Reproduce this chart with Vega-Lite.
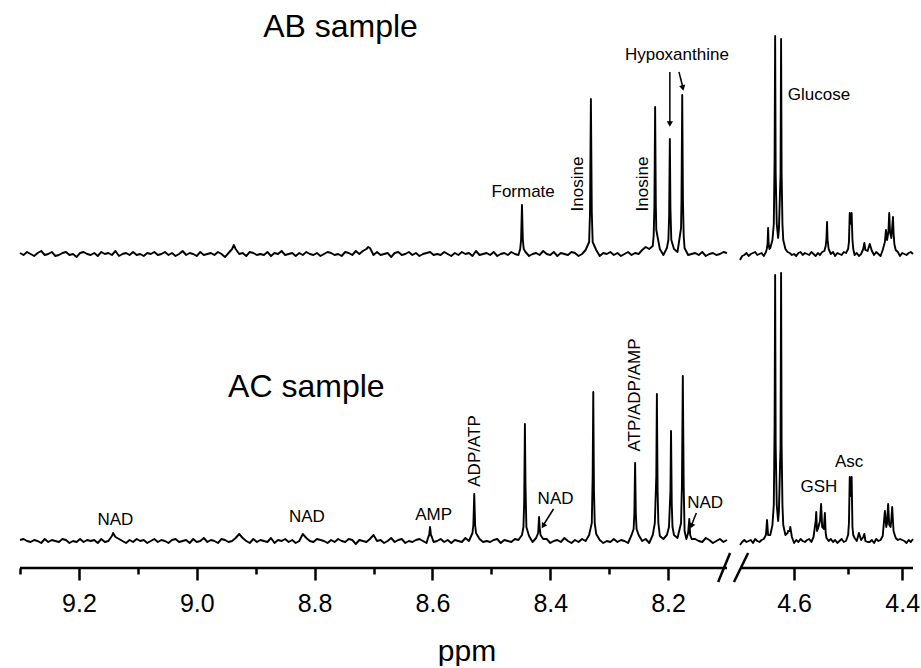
{
  "$schema": "https://vega.github.io/schema/vega-lite/v6.json",
  "background": "white",
  "padding": {"left": 18, "top": 0, "right": 0, "bottom": 0},
  "spacing": 0,
  "config": {
    "view": {"stroke": null},
    "font": "Liberation Sans",
    "text": {"font": "Liberation Sans", "color": "black"}
  },
  "datasets": {
    "abL": [
      {"p":9.300,"v":1},{"p":9.294,"v":-1},{"p":9.288,"v":2},{"p":9.282,"v":0},{"p":9.276,"v":-2},{"p":9.270,"v":1},{"p":9.264,"v":3},{"p":9.258,"v":-1},{"p":9.252,"v":0},{"p":9.246,"v":2},
      {"p":9.240,"v":-2},{"p":9.234,"v":-1},{"p":9.228,"v":1},{"p":9.222,"v":2},{"p":9.216,"v":-1},{"p":9.210,"v":0},{"p":9.204,"v":-3},{"p":9.198,"v":1},{"p":9.192,"v":2},{"p":9.186,"v":0},
      {"p":9.180,"v":-1},{"p":9.174,"v":1},{"p":9.168,"v":-2},{"p":9.162,"v":2},{"p":9.156,"v":0},{"p":9.150,"v":1},{"p":9.144,"v":-1},{"p":9.138,"v":3},{"p":9.132,"v":-2},{"p":9.126,"v":0},
      {"p":9.120,"v":1},{"p":9.114,"v":-1},{"p":9.108,"v":2},{"p":9.102,"v":-1},{"p":9.096,"v":0},{"p":9.090,"v":-2},{"p":9.084,"v":1},{"p":9.078,"v":0},{"p":9.072,"v":2},{"p":9.066,"v":-1},
      {"p":9.060,"v":0},{"p":9.054,"v":2},{"p":9.048,"v":-1},{"p":9.042,"v":1},{"p":9.036,"v":-2},{"p":9.030,"v":0},{"p":9.024,"v":3},{"p":9.018,"v":-1},{"p":9.012,"v":1},{"p":9.006,"v":0},
      {"p":9.000,"v":-2},{"p":8.994,"v":2},{"p":8.988,"v":-1},{"p":8.982,"v":0},{"p":8.976,"v":1},{"p":8.970,"v":-1},{"p":8.964,"v":2},{"p":8.958,"v":0},{"p":8.952,"v":-3},{"p":8.946,"v":1},
      {"p":8.940,"v":5},{"p":8.937,"v":9},{"p":8.934,"v":5},{"p":8.928,"v":0},{"p":8.922,"v":1},{"p":8.916,"v":-2},{"p":8.910,"v":2},{"p":8.904,"v":1},{"p":8.898,"v":-1},{"p":8.892,"v":0},{"p":8.886,"v":-1},
      {"p":8.880,"v":2},{"p":8.874,"v":-2},{"p":8.868,"v":1},{"p":8.862,"v":0},{"p":8.856,"v":3},{"p":8.850,"v":-1},{"p":8.844,"v":0},{"p":8.838,"v":1},{"p":8.832,"v":-2},{"p":8.826,"v":1},
      {"p":8.820,"v":-1},{"p":8.814,"v":2},{"p":8.808,"v":0},{"p":8.802,"v":-1},{"p":8.796,"v":1},{"p":8.790,"v":-2},{"p":8.784,"v":0},{"p":8.778,"v":2},{"p":8.772,"v":1},{"p":8.766,"v":-1},
      {"p":8.760,"v":0},{"p":8.754,"v":-2},{"p":8.748,"v":2},{"p":8.742,"v":1},{"p":8.736,"v":-1},{"p":8.730,"v":3},{"p":8.724,"v":0},{"p":8.718,"v":3},{"p":8.712,"v":5},{"p":8.709,"v":7},{"p":8.706,"v":6},
      {"p":8.700,"v":-1},{"p":8.694,"v":2},{"p":8.688,"v":-1},{"p":8.682,"v":0},{"p":8.676,"v":1},{"p":8.670,"v":-3},{"p":8.664,"v":1},{"p":8.658,"v":2},{"p":8.652,"v":-1},{"p":8.646,"v":0},
      {"p":8.640,"v":2},{"p":8.634,"v":-1},{"p":8.628,"v":1},{"p":8.622,"v":-2},{"p":8.616,"v":0},{"p":8.610,"v":1},{"p":8.604,"v":2},{"p":8.598,"v":-1},{"p":8.592,"v":0},{"p":8.586,"v":-1},
      {"p":8.580,"v":2},{"p":8.574,"v":0},{"p":8.568,"v":-2},{"p":8.562,"v":1},{"p":8.556,"v":-1},{"p":8.550,"v":2},{"p":8.544,"v":0},{"p":8.538,"v":1},{"p":8.532,"v":-2},{"p":8.526,"v":3},
      {"p":8.520,"v":-1},{"p":8.514,"v":0},{"p":8.508,"v":1},{"p":8.502,"v":-1},{"p":8.496,"v":2},{"p":8.490,"v":-2},{"p":8.484,"v":0},{"p":8.478,"v":1},{"p":8.472,"v":-1},{"p":8.466,"v":2},
      {"p":8.460,"v":0},{"p":8.454,"v":-1},{"p":8.451,"v":5},{"p":8.4495,"v":14},{"p":8.448,"v":49},{"p":8.4465,"v":14},{"p":8.445,"v":5},{"p":8.442,"v":2},{"p":8.436,"v":-2},{"p":8.430,"v":0},{"p":8.424,"v":1},
      {"p":8.418,"v":-1},{"p":8.412,"v":3},{"p":8.406,"v":0},{"p":8.400,"v":-1},{"p":8.394,"v":2},{"p":8.388,"v":-2},{"p":8.382,"v":1},{"p":8.376,"v":0},{"p":8.370,"v":-1},{"p":8.364,"v":2},
      {"p":8.358,"v":1},{"p":8.352,"v":-2},{"p":8.346,"v":0},{"p":8.340,"v":4},{"p":8.334,"v":12},{"p":8.3325,"v":42},{"p":8.331,"v":155},{"p":8.3295,"v":42},{"p":8.328,"v":12},{"p":8.322,"v":4},
      {"p":8.316,"v":-2},{"p":8.310,"v":1},{"p":8.304,"v":0},{"p":8.298,"v":2},{"p":8.292,"v":-1},{"p":8.286,"v":1},{"p":8.280,"v":-2},{"p":8.274,"v":0},{"p":8.268,"v":2},{"p":8.262,"v":-1},
      {"p":8.256,"v":1},{"p":8.250,"v":0},{"p":8.244,"v":4},{"p":8.238,"v":7},{"p":8.232,"v":5},{"p":8.226,"v":8},{"p":8.2245,"v":18},{"p":8.2232,"v":48},{"p":8.222,"v":147},{"p":8.2208,"v":48},
      {"p":8.220,"v":24},{"p":8.214,"v":5},{"p":8.208,"v":-1},{"p":8.202,"v":6},{"p":8.1995,"v":14},{"p":8.1982,"v":38},{"p":8.197,"v":115},{"p":8.196,"v":45},{"p":8.1945,"v":14},{"p":8.190,"v":5},
      {"p":8.184,"v":2},{"p":8.178,"v":26},{"p":8.1772,"v":55},{"p":8.176,"v":159},{"p":8.1748,"v":55},{"p":8.1735,"v":18},{"p":8.172,"v":6},{"p":8.166,"v":-1},{"p":8.160,"v":0},{"p":8.154,"v":1},
      {"p":8.148,"v":-1},{"p":8.142,"v":2},{"p":8.136,"v":-2},{"p":8.130,"v":0},{"p":8.124,"v":1},{"p":8.118,"v":-1},{"p":8.112,"v":0},{"p":8.106,"v":2},{"p":8.100,"v":1}
    ],
    "abR": [
      {"p":4.700,"v":-6},{"p":4.696,"v":-2},{"p":4.692,"v":-1},{"p":4.688,"v":1},{"p":4.684,"v":-2},{"p":4.680,"v":0},{"p":4.676,"v":1},{"p":4.672,"v":2},{"p":4.668,"v":-1},{"p":4.664,"v":0},
      {"p":4.660,"v":1},{"p":4.656,"v":-2},{"p":4.652,"v":2},{"p":4.6505,"v":5},{"p":4.649,"v":10},{"p":4.648,"v":26},{"p":4.647,"v":10},{"p":4.6455,"v":5},{"p":4.644,"v":6},{"p":4.640,"v":14},
      {"p":4.6375,"v":30},{"p":4.636,"v":95},{"p":4.635,"v":218},{"p":4.634,"v":80},{"p":4.632,"v":30},{"p":4.6295,"v":16},{"p":4.628,"v":25},{"p":4.625,"v":80},{"p":4.624,"v":215},{"p":4.623,"v":80},
      {"p":4.6215,"v":30},{"p":4.620,"v":14},{"p":4.616,"v":5},{"p":4.612,"v":2},{"p":4.608,"v":1},{"p":4.604,"v":-1},{"p":4.600,"v":0},{"p":4.596,"v":-2},{"p":4.592,"v":1},{"p":4.588,"v":2},
      {"p":4.584,"v":-1},{"p":4.580,"v":1},{"p":4.576,"v":0},{"p":4.572,"v":-1},{"p":4.568,"v":2},{"p":4.564,"v":0},{"p":4.560,"v":-2},{"p":4.556,"v":1},{"p":4.552,"v":-1},{"p":4.548,"v":2},
      {"p":4.544,"v":3},{"p":4.5415,"v":8},{"p":4.540,"v":16},{"p":4.539,"v":32},{"p":4.538,"v":14},{"p":4.536,"v":5},{"p":4.532,"v":0},{"p":4.528,"v":2},{"p":4.524,"v":-2},{"p":4.520,"v":1},
      {"p":4.516,"v":0},{"p":4.512,"v":-1},{"p":4.508,"v":2},{"p":4.504,"v":1},{"p":4.500,"v":5},{"p":4.4985,"v":12},{"p":4.497,"v":41},{"p":4.496,"v":30},{"p":4.4935,"v":41},{"p":4.492,"v":14},
      {"p":4.4905,"v":5},{"p":4.488,"v":-1},{"p":4.484,"v":1},{"p":4.480,"v":-2},{"p":4.476,"v":0},{"p":4.472,"v":5},{"p":4.470,"v":11},{"p":4.468,"v":4},{"p":4.464,"v":3},{"p":4.460,"v":10},
      {"p":4.456,"v":3},{"p":4.452,"v":-1},{"p":4.448,"v":2},{"p":4.444,"v":0},{"p":4.440,"v":-2},{"p":4.436,"v":4},{"p":4.432,"v":12},{"p":4.430,"v":24},{"p":4.428,"v":14},{"p":4.4255,"v":22},
      {"p":4.424,"v":41},{"p":4.4225,"v":22},{"p":4.420,"v":16},{"p":4.417,"v":37},{"p":4.416,"v":22},{"p":4.4145,"v":10},{"p":4.412,"v":4},{"p":4.408,"v":2},{"p":4.404,"v":-2},{"p":4.400,"v":1},
      {"p":4.396,"v":0},{"p":4.392,"v":-1},{"p":4.388,"v":1},{"p":4.384,"v":2},{"p":4.380,"v":0}
    ],
    "acL": [
      {"p":9.300,"v":1},{"p":9.294,"v":2},{"p":9.288,"v":0},{"p":9.282,"v":-1},{"p":9.276,"v":1},{"p":9.270,"v":0},{"p":9.264,"v":-2},{"p":9.258,"v":2},{"p":9.252,"v":-1},{"p":9.246,"v":1},
      {"p":9.240,"v":0},{"p":9.234,"v":-1},{"p":9.228,"v":2},{"p":9.222,"v":1},{"p":9.216,"v":-2},{"p":9.210,"v":0},{"p":9.204,"v":-1},{"p":9.198,"v":2},{"p":9.192,"v":-1},{"p":9.186,"v":1},
      {"p":9.180,"v":0},{"p":9.174,"v":1},{"p":9.168,"v":-2},{"p":9.162,"v":2},{"p":9.156,"v":-1},{"p":9.150,"v":0},{"p":9.144,"v":5},{"p":9.142,"v":8},{"p":9.138,"v":4},{"p":9.132,"v":2},
      {"p":9.126,"v":0},{"p":9.120,"v":-2},{"p":9.114,"v":1},{"p":9.108,"v":-1},{"p":9.102,"v":2},{"p":9.096,"v":0},{"p":9.090,"v":1},{"p":9.084,"v":-2},{"p":9.078,"v":0},{"p":9.072,"v":2},
      {"p":9.066,"v":-1},{"p":9.060,"v":1},{"p":9.054,"v":0},{"p":9.048,"v":-2},{"p":9.042,"v":1},{"p":9.036,"v":2},{"p":9.030,"v":-1},{"p":9.024,"v":0},{"p":9.018,"v":1},{"p":9.012,"v":-2},
      {"p":9.006,"v":2},{"p":9.000,"v":-1},{"p":8.994,"v":0},{"p":8.988,"v":3},{"p":8.982,"v":-1},{"p":8.976,"v":1},{"p":8.970,"v":0},{"p":8.964,"v":-2},{"p":8.958,"v":2},{"p":8.952,"v":1},
      {"p":8.946,"v":-1},{"p":8.940,"v":0},{"p":8.934,"v":3},{"p":8.928,"v":7},{"p":8.922,"v":3},{"p":8.916,"v":0},{"p":8.910,"v":-2},{"p":8.904,"v":2},{"p":8.898,"v":-1},{"p":8.892,"v":1},
      {"p":8.886,"v":0},{"p":8.880,"v":-1},{"p":8.874,"v":3},{"p":8.868,"v":-2},{"p":8.862,"v":1},{"p":8.856,"v":0},{"p":8.850,"v":2},{"p":8.844,"v":-1},{"p":8.838,"v":1},{"p":8.832,"v":-2},
      {"p":8.826,"v":0},{"p":8.820,"v":7},{"p":8.814,"v":3},{"p":8.808,"v":0},{"p":8.802,"v":-1},{"p":8.796,"v":2},{"p":8.790,"v":1},{"p":8.784,"v":0},{"p":8.778,"v":-2},{"p":8.772,"v":1},
      {"p":8.766,"v":-1},{"p":8.760,"v":2},{"p":8.754,"v":0},{"p":8.748,"v":-1},{"p":8.742,"v":2},{"p":8.736,"v":1},{"p":8.730,"v":-3},{"p":8.724,"v":1},{"p":8.718,"v":0},{"p":8.712,"v":-1},
      {"p":8.706,"v":2},{"p":8.700,"v":6},{"p":8.694,"v":0},{"p":8.688,"v":1},{"p":8.682,"v":-2},{"p":8.676,"v":0},{"p":8.670,"v":3},{"p":8.664,"v":-1},{"p":8.658,"v":1},{"p":8.652,"v":2},
      {"p":8.646,"v":-2},{"p":8.640,"v":0},{"p":8.634,"v":-1},{"p":8.628,"v":1},{"p":8.622,"v":2},{"p":8.616,"v":0},{"p":8.610,"v":-2},{"p":8.607,"v":4},{"p":8.6055,"v":6},{"p":8.604,"v":14},
      {"p":8.6025,"v":6},{"p":8.601,"v":4},{"p":8.598,"v":-1},{"p":8.592,"v":0},{"p":8.586,"v":2},{"p":8.580,"v":-1},{"p":8.574,"v":1},{"p":8.568,"v":-2},{"p":8.562,"v":1},{"p":8.556,"v":0},
      {"p":8.550,"v":-1},{"p":8.544,"v":3},{"p":8.538,"v":0},{"p":8.532,"v":8},{"p":8.5305,"v":16},{"p":8.529,"v":47},{"p":8.5275,"v":16},{"p":8.526,"v":8},{"p":8.520,"v":2},{"p":8.514,"v":-1},
      {"p":8.508,"v":0},{"p":8.502,"v":-1},{"p":8.496,"v":1},{"p":8.490,"v":2},{"p":8.484,"v":-2},{"p":8.478,"v":1},{"p":8.472,"v":0},{"p":8.466,"v":-1},{"p":8.460,"v":2},{"p":8.454,"v":1},
      {"p":8.448,"v":6},{"p":8.4455,"v":14},{"p":8.4442,"v":40},{"p":8.443,"v":117},{"p":8.442,"v":55},{"p":8.4405,"v":14},{"p":8.436,"v":5},{"p":8.430,"v":-1},{"p":8.424,"v":3},{"p":8.4205,"v":8},
      {"p":8.419,"v":24},{"p":8.418,"v":14},{"p":8.4165,"v":6},{"p":8.412,"v":2},{"p":8.406,"v":2},{"p":8.400,"v":-2},{"p":8.394,"v":0},{"p":8.388,"v":1},{"p":8.382,"v":-1},{"p":8.376,"v":3},
      {"p":8.370,"v":0},{"p":8.364,"v":-2},{"p":8.358,"v":1},{"p":8.352,"v":-1},{"p":8.346,"v":2},{"p":8.340,"v":0},{"p":8.334,"v":6},{"p":8.3295,"v":18},{"p":8.328,"v":65},{"p":8.327,"v":149},
      {"p":8.3258,"v":50},{"p":8.3245,"v":18},{"p":8.322,"v":7},{"p":8.316,"v":1},{"p":8.310,"v":-2},{"p":8.304,"v":0},{"p":8.298,"v":-1},{"p":8.292,"v":2},{"p":8.286,"v":-1},{"p":8.280,"v":1},
      {"p":8.274,"v":0},{"p":8.268,"v":-2},{"p":8.262,"v":6},{"p":8.2585,"v":12},{"p":8.2572,"v":28},{"p":8.256,"v":78},{"p":8.2548,"v":28},{"p":8.2535,"v":12},{"p":8.250,"v":6},{"p":8.244,"v":0},
      {"p":8.238,"v":2},{"p":8.232,"v":-2},{"p":8.226,"v":6},{"p":8.2225,"v":18},{"p":8.220,"v":65},{"p":8.219,"v":147},{"p":8.2178,"v":50},{"p":8.2165,"v":18},{"p":8.214,"v":5},{"p":8.208,"v":2},
      {"p":8.202,"v":6},{"p":8.1985,"v":14},{"p":8.196,"v":50},{"p":8.195,"v":110},{"p":8.1938,"v":38},{"p":8.1925,"v":14},{"p":8.190,"v":6},{"p":8.184,"v":3},{"p":8.178,"v":18},{"p":8.1765,"v":55},
      {"p":8.175,"v":165},{"p":8.1735,"v":55},{"p":8.172,"v":10},{"p":8.169,"v":2},{"p":8.166,"v":8},{"p":8.164,"v":22},{"p":8.1625,"v":6},{"p":8.160,"v":2},{"p":8.154,"v":2},{"p":8.148,"v":0},
      {"p":8.142,"v":-1},{"p":8.136,"v":3},{"p":8.130,"v":1},{"p":8.124,"v":-2},{"p":8.118,"v":0},{"p":8.112,"v":2},{"p":8.106,"v":-1},{"p":8.100,"v":1}
    ],
    "acR": [
      {"p":4.700,"v":-4},{"p":4.696,"v":-1},{"p":4.692,"v":1},{"p":4.688,"v":-1},{"p":4.684,"v":0},{"p":4.680,"v":1},{"p":4.676,"v":-2},{"p":4.672,"v":2},{"p":4.668,"v":0},{"p":4.664,"v":-1},
      {"p":4.660,"v":1},{"p":4.656,"v":2},{"p":4.652,"v":6},{"p":4.650,"v":21},{"p":4.648,"v":6},{"p":4.644,"v":6},{"p":4.640,"v":16},{"p":4.6375,"v":36},{"p":4.636,"v":115},{"p":4.635,"v":266},
      {"p":4.634,"v":95},{"p":4.632,"v":36},{"p":4.6295,"v":20},{"p":4.628,"v":30},{"p":4.625,"v":95},{"p":4.624,"v":268},{"p":4.623,"v":95},{"p":4.6215,"v":36},{"p":4.620,"v":16},{"p":4.616,"v":6},
      {"p":4.612,"v":8},{"p":4.611,"v":10},{"p":4.608,"v":10},{"p":4.607,"v":14},{"p":4.604,"v":4},{"p":4.600,"v":-2},{"p":4.596,"v":1},{"p":4.592,"v":-1},{"p":4.588,"v":2},{"p":4.584,"v":0},
      {"p":4.580,"v":-1},{"p":4.576,"v":1},{"p":4.572,"v":2},{"p":4.568,"v":-1},{"p":4.564,"v":4},{"p":4.560,"v":20},{"p":4.559,"v":29},{"p":4.5575,"v":10},{"p":4.556,"v":12},{"p":4.552,"v":20},
      {"p":4.550,"v":37},{"p":4.548,"v":14},{"p":4.545,"v":12},{"p":4.544,"v":20},{"p":4.543,"v":28},{"p":4.5415,"v":8},{"p":4.540,"v":3},{"p":4.536,"v":0},{"p":4.532,"v":2},{"p":4.528,"v":-1},
      {"p":4.524,"v":1},{"p":4.520,"v":-2},{"p":4.516,"v":0},{"p":4.512,"v":2},{"p":4.508,"v":-1},{"p":4.504,"v":0},{"p":4.500,"v":6},{"p":4.4985,"v":18},{"p":4.497,"v":64},{"p":4.496,"v":45},
      {"p":4.4935,"v":64},{"p":4.492,"v":14},{"p":4.4905,"v":6},{"p":4.488,"v":3},{"p":4.484,"v":0},{"p":4.480,"v":8},{"p":4.476,"v":1},{"p":4.472,"v":4},{"p":4.470,"v":7},{"p":4.468,"v":0},
      {"p":4.464,"v":-1},{"p":4.460,"v":-1},{"p":4.456,"v":1},{"p":4.452,"v":-2},{"p":4.448,"v":2},{"p":4.444,"v":0},{"p":4.440,"v":1},{"p":4.436,"v":5},{"p":4.432,"v":30},{"p":4.4295,"v":14},
      {"p":4.428,"v":18},{"p":4.426,"v":37},{"p":4.424,"v":16},{"p":4.4215,"v":14},{"p":4.420,"v":22},{"p":4.4185,"v":34},{"p":4.416,"v":10},{"p":4.412,"v":3},{"p":4.408,"v":1},{"p":4.404,"v":2},
      {"p":4.400,"v":1},{"p":4.396,"v":0},{"p":4.392,"v":-2},{"p":4.388,"v":1},{"p":4.384,"v":-1},{"p":4.380,"v":2}
    ]
  },
  "vconcat": [
    {
      "width": 893,
      "height": 268,
      "encoding": {
        "x": {"field": "p", "type": "quantitative", "scale": {"domain": [9.3, 8.1, 4.7, 4.38], "range": [0, 707, 720, 893], "nice": false, "zero": false}, "axis": null},
        "y": {"field": "v", "type": "quantitative", "scale": {"domain": [-14, 254], "nice": false, "zero": false}, "axis": null}
      },
      "layer": [
        {"data": {"name": "abL"}, "mark": {"type": "line", "color": "black", "strokeWidth": 1.9, "strokeJoin": "round"}},
        {"data": {"name": "abR"}, "mark": {"type": "line", "color": "black", "strokeWidth": 1.9, "strokeJoin": "round"}},
        {"data": {"values": [{"t":"Formate","p":8.446,"v":62},{"t":"Hypoxanthine","p":8.185,"v":199},{"t":"Glucose","p":4.554,"v":159}]},
         "mark": {"type": "text", "fontSize": 17, "align": "center", "baseline": "middle"},
         "encoding": {"text": {"field": "t"}}},
        {"data": {"values": [{"t":"Inosine","p":8.353,"v":70},{"t":"Inosine","p":8.243,"v":70}]},
         "mark": {"type": "text", "fontSize": 17, "align": "center", "baseline": "middle", "angle": 270},
         "encoding": {"text": {"field": "t"}}},
        {"data": {"values": [{"t":"AB sample","p":8.756,"v":227}]},
         "mark": {"type": "text", "fontSize": 32, "align": "center", "baseline": "middle"},
         "encoding": {"text": {"field": "t"}}},
        {"data": {"values": [{"p":8.197,"v":182,"p2":8.197,"v2":132},{"p":8.1815,"v":182,"p2":8.1755,"v2":168}]},
         "mark": {"type": "rule", "color": "black", "strokeWidth": 1.5},
         "encoding": {"x2": {"field": "p2"}, "y2": {"field": "v2"}}},
        {"data": {"values": [{"p":8.197,"v":130}]},
         "mark": {"type": "point", "shape": "triangle-down", "filled": true, "color": "black", "opacity": 1, "size": 40}},
        {"data": {"values": [{"p":8.175,"v":166}]},
         "mark": {"type": "point", "shape": "triangle-down", "filled": true, "color": "black", "opacity": 1, "size": 40, "angle": 347}}
      ]
    },
    {
      "width": 893,
      "height": 300,
      "encoding": {
        "x": {"field": "p", "type": "quantitative", "title": "ppm",
              "scale": {"domain": [9.3, 8.1, 4.7, 4.38], "range": [0, 707, 720, 893], "nice": false, "zero": false},
              "axis": {
                "values": [9.3, 9.2, 9.1, 9.0, 8.9, 8.8, 8.7, 8.6, 8.5, 8.4, 8.3, 8.2, 4.6, 4.5, 4.4],
                "domain": false, "grid": false,
                "tickColor": "black", "tickWidth": 2.5,
                "tickSize": {"condition": {"test": "indexof([9.3,9.1,8.9,8.7,8.5,8.3,4.5], datum.value) >= 0", "value": 6}, "value": 12},
                "labelExpr": "indexof([9.3,9.1,8.9,8.7,8.5,8.3,4.5], datum.value) >= 0 ? '' : format(datum.value, '.1f')",
                "labelFont": "Liberation Sans", "labelFontSize": 25, "labelColor": "black", "labelPadding": 11,
                "labelOverlap": false, "labelFlush": false,
                "title": "ppm", "titleFont": "Liberation Sans", "titleFontSize": 30, "titleFontWeight": "normal", "titleColor": "black", "titlePadding": 20
              }},
        "y": {"field": "v", "type": "quantitative", "scale": {"domain": [-27, 273], "nice": false, "zero": false}, "axis": null}
      },
      "layer": [
        {"data": {"name": "acL"}, "mark": {"type": "line", "color": "black", "strokeWidth": 1.9, "strokeJoin": "round"}},
        {"data": {"name": "acR"}, "mark": {"type": "line", "color": "black", "strokeWidth": 1.9, "strokeJoin": "round"}},
        {"data": {"values": [{"t":"NAD","p":9.138,"v":21},{"t":"NAD","p":8.813,"v":24},{"t":"AMP","p":8.598,"v":26},{"t":"NAD","p":8.391,"v":42},{"t":"NAD","p":8.137,"v":38},{"t":"GSH","p":4.554,"v":54},{"t":"Asc","p":4.498,"v":79}]},
         "mark": {"type": "text", "fontSize": 17, "align": "center", "baseline": "middle"},
         "encoding": {"text": {"field": "t"}}},
        {"data": {"values": [{"t":"ADP/ATP","p":8.528,"v":90},{"t":"ATP/ADP/AMP","p":8.257,"v":146}]},
         "mark": {"type": "text", "fontSize": 17, "align": "center", "baseline": "middle", "angle": 270},
         "encoding": {"text": {"field": "t"}}},
        {"data": {"values": [{"t":"AC sample","p":8.814,"v":154}]},
         "mark": {"type": "text", "fontSize": 32, "align": "center", "baseline": "middle"},
         "encoding": {"text": {"field": "t"}}},
        {"data": {"values": [{"p":8.3945,"v":32,"p2":8.4105,"v2":17},{"p":8.152,"v":28,"p2":8.1595,"v2":17}]},
         "mark": {"type": "rule", "color": "black", "strokeWidth": 1.5},
         "encoding": {"x2": {"field": "p2"}, "y2": {"field": "v2"}}},
        {"data": {"values": [{"p":8.412,"v":15}]},
         "mark": {"type": "point", "shape": "triangle-down", "filled": true, "color": "black", "opacity": 1, "size": 40, "angle": 32}},
        {"data": {"values": [{"p":8.1605,"v":15}]},
         "mark": {"type": "point", "shape": "triangle-down", "filled": true, "color": "black", "opacity": 1, "size": 40, "angle": 23}},
        {"data": {"values": [{"p":9.3,"p2":8.1,"v":-27},{"p":4.7,"p2":4.38,"v":-27}]},
         "mark": {"type": "rule", "color": "black", "strokeWidth": 2.5},
         "encoding": {"x2": {"field": "p2"}}},
        {"data": {"values": [{"p":8.115,"v":-41,"p2":7.3,"v2":-12},{"p":6.27,"v":-41,"p2":4.685,"v2":-12}]},
         "mark": {"type": "rule", "color": "black", "strokeWidth": 2.5},
         "encoding": {"x2": {"field": "p2"}, "y2": {"field": "v2"}}}
      ]
    }
  ]
}
